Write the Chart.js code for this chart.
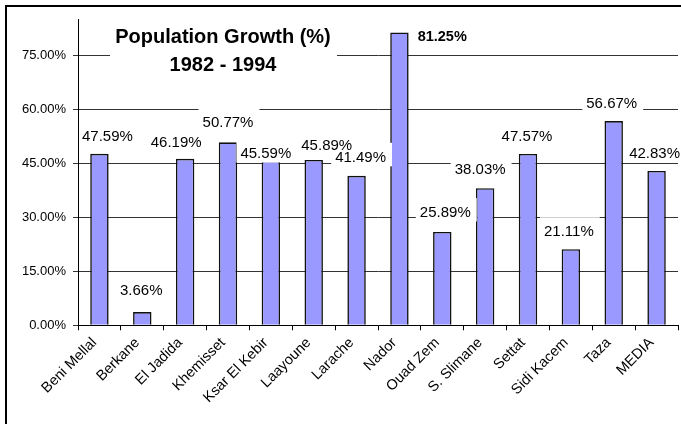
<!DOCTYPE html>
<html><head><meta charset="utf-8">
<script src="https://cdn.jsdelivr.net/npm/chart.js@4"></script>
<style>html,body{margin:0;padding:0;background:#fff}</style>
</head><body>
<canvas id="c" width="681" height="424"></canvas>
<script>
const categories = ['Beni Mellal','Berkane','El Jadida','Khemisset','Ksar El Kebir','Laayoune','Larache','Nador','Ouad Zem','S. Slimane','Settat','Sidi Kacem','Taza','MEDIA'];
const growth = [47.59,3.66,46.19,50.77,45.59,45.89,41.49,81.25,25.89,38.03,47.57,21.11,56.67,42.83];
const yTicks = [0,15,30,45,60,75];
const titleLines = ['Population Growth (%)','1982 - 1994'];
const highlightIndex = 7;

const FONT = '"Liberation Sans", Arial, Helvetica, sans-serif';
Chart.defaults.font.family = FONT;

// style: small manual label shifts [dx, dy] relative to the default spot above a bar
const labelNudge = {0:[8,0],1:[-1,-4],2:[-9,1],3:[0,-2],4:[-5,10],5:[13,3],6:[4,-1],8:[3,-2],9:[-5,-1.5],10:[-1,0],11:[-2,0],12:[-2,0],13:[-2,0]};

const deco = {
  id: 'deco',
  beforeDraw(chart) {
    const ctx = chart.ctx;
    ctx.save();
    ctx.fillStyle = '#fff';
    ctx.fillRect(0, 0, chart.width, chart.height);
    ctx.strokeStyle = '#000';
    ctx.lineWidth = 2;
    ctx.strokeRect(6, 6, chart.width + 20, chart.height + 20);
    ctx.restore();
  },
  afterDatasetsDraw(chart) {
    const ctx = chart.ctx;
    const meta = chart.getDatasetMeta(0);
    const area = chart.chartArea;
    ctx.save();
    ctx.textBaseline = 'middle';
    const texts = [];
    meta.data.forEach((bar, i) => {
      const txt = growth[i].toFixed(2) + '%';
      if (i === highlightIndex) {
        texts.push({ txt, x: bar.x + bar.width / 2 + 9, y: bar.y + 4, font: 'bold 14.5px ' + FONT, align: 'left' });
        return;
      }
      ctx.font = '15px ' + FONT;
      const n = labelNudge[i] || [0, 0];
      const cx = bar.x + n[0];
      const cy = bar.y - 17 + n[1];
      const w = ctx.measureText(txt).width;
      const l = Math.max(cx - w / 2 - 4, area.left + 1);
      const r = cx + w / 2 + 6;
      ctx.fillStyle = '#fff';
      ctx.fillRect(l, cy - 15, r - l, 23.5);
      texts.push({ txt, x: cx, y: cy, font: '15px ' + FONT, align: 'center' });
    });
    ctx.fillStyle = '#000';
    texts.forEach(t => {
      ctx.font = t.font;
      ctx.textAlign = t.align;
      ctx.fillText(t.txt, t.x, t.y);
    });
    // title block with white background
    ctx.fillStyle = '#fff';
    ctx.fillRect(110, area.top + 1, 227, 65);
    ctx.fillStyle = '#000';
    ctx.textAlign = 'center';
    ctx.font = 'bold 20px ' + FONT;
    ctx.fillText(titleLines[0], 223, 37);
    ctx.fillText(titleLines[1], 223, 65);
    ctx.restore();
  }
};

new Chart(document.getElementById('c'), {
  type: 'bar',
  data: {
    labels: categories,
    datasets: [{
      data: growth,
      backgroundColor: '#9999FF',
      borderColor: '#111',
      borderWidth: 1.6,
      categoryPercentage: 1,
      barPercentage: 0.43
    }]
  },
  options: {
    responsive: false,
    animation: false,
    devicePixelRatio: 1,
    layout: { padding: { top: 19, right: 3, left: 0, bottom: 0 } },
    plugins: { legend: { display: false }, tooltip: { enabled: false }, title: { display: false } },
    scales: {
      x: {
        grid: { display: true, drawOnChartArea: false, drawTicks: true, tickLength: 5, color: '#000', offset: true },
        border: { display: true, color: '#000', width: 1 },
        ticks: { color: '#000', font: { size: 14.5 }, maxRotation: 45, minRotation: 45, autoSkip: false, padding: 4, labelOffset: -5 },
        afterFit(scale) { scale.height = 98.7; }
      },
      y: {
        min: 0,
        max: 85,
        afterBuildTicks(scale) { scale.ticks = yTicks.map(v => ({ value: v })); },
        grid: { color: '#333', lineWidth: 1, tickLength: 5, drawTicks: true },
        border: { display: true, color: '#000', width: 1 },
        ticks: { color: '#000', font: { size: 13 }, padding: 7, callback: v => Number(v).toFixed(2) + '%' },
        afterFit(scale) { scale.width = 78; }
      }
    }
  },
  plugins: [deco]
});
</script>
</body></html>
